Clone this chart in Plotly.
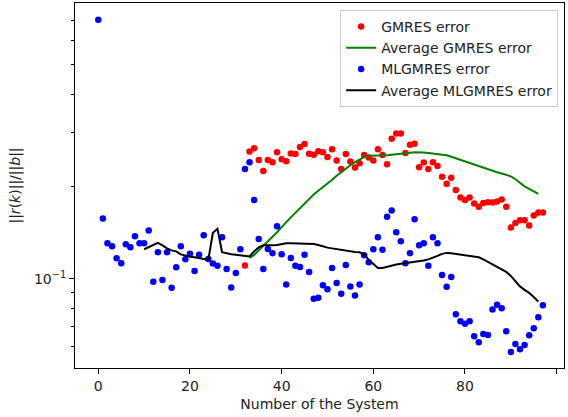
import plotly.graph_objects as go

# System indices
mlgmres_x = list(range(0, 98))
gmres_x = list(range(32, 98))
avg_ml_x = list(range(10, 97))
avg_gm_x = list(range(33, 97))

# Relative residual ||r(k)||/||b|| per system, MLGMRES
mlgmres_err = [
    0.702, 0.1574, 0.1308, 0.1279, 0.1169, 0.1125, 0.1298, 0.1269, 0.1379, 0.1308,
    0.1308, 0.1438, 0.0978, 0.1222, 0.0992, 0.1222, 0.0935, 0.1092, 0.1279, 0.1160,
    0.1207, 0.1062, 0.1198, 0.1389, 0.1162, 0.1122, 0.1103, 0.1369, 0.1078, 0.0937,
    0.1046, 0.1250, 0.2284, 0.2406, 0.1811, 0.1351, 0.1078, 0.1253, 0.1213, 0.1487,
    0.1204, 0.0958, 0.1171, 0.1103, 0.1094, 0.1198, 0.1054, 0.0862, 0.0868, 0.0954,
    0.0925, 0.1086, 0.0970, 0.0895, 0.1111, 0.0944, 0.0882, 0.0958, 0.1195, 0.1134,
    0.1250, 0.1369, 0.1244, 0.1597, 0.1671, 0.1421, 0.1328, 0.1125, 0.1213, 0.1567,
    0.1288, 0.1308, 0.1103, 0.1369, 0.1308, 0.1030, 0.0942, 0.1015, 0.0767, 0.0727,
    0.0714, 0.0727, 0.0650, 0.0621, 0.0661, 0.0656, 0.0794, 0.0824, 0.0802, 0.0675,
    0.0577, 0.0613, 0.0589, 0.0608, 0.0655, 0.0690, 0.0750, 0.0820,
]

# Relative residual per system, GMRES (systems 32..97)
gmres_err = [
    0.1105, 0.2606, 0.2673, 0.2443, 0.2249, 0.2443, 0.2406, 0.2594, 0.2460, 0.2424,
    0.2568, 0.2557, 0.2694, 0.2756, 0.2563, 0.2543, 0.2612, 0.2594, 0.2499, 0.2653,
    0.2436, 0.2284, 0.2556, 0.2417, 0.2311, 0.2388, 0.2537, 0.2492, 0.2436, 0.2653,
    0.2537, 0.2370, 0.2868, 0.2985, 0.2985, 0.2575, 0.2741, 0.2762, 0.2317, 0.2399,
    0.2284, 0.2406, 0.2335, 0.2154, 0.2044, 0.2138, 0.1953, 0.1844, 0.1811, 0.1844,
    0.1762, 0.1719, 0.1771, 0.1780, 0.1775, 0.1789, 0.1816, 0.1719, 0.1471, 0.1521,
    0.1555, 0.1555, 0.1494, 0.1610, 0.1646, 0.1646,
]

# Running averages
avg_mlgmres = [
    0.1250, 0.1269, 0.1291, 0.1311, 0.1287, 0.1258, 0.1239, 0.1230, 0.1202, 0.1189,
    0.1182, 0.1176, 0.1169, 0.1163, 0.1154, 0.1414, 0.1457, 0.1223, 0.1212, 0.1204,
    0.1200, 0.1195, 0.1189, 0.1184, 0.1230, 0.1267, 0.1287, 0.1285, 0.1289, 0.1291,
    0.1301, 0.1308, 0.1308, 0.1306, 0.1305, 0.1304, 0.1303, 0.1301, 0.1291, 0.1277,
    0.1265, 0.1258, 0.1250, 0.1244, 0.1239, 0.1230, 0.1225, 0.1221, 0.1202, 0.1154,
    0.1120, 0.1086, 0.1086, 0.1097, 0.1107, 0.1115, 0.1120, 0.1125, 0.1132, 0.1136,
    0.1141, 0.1149, 0.1158, 0.1171, 0.1189, 0.1207, 0.1216, 0.1213, 0.1207, 0.1200,
    0.1194, 0.1187, 0.1182, 0.1176, 0.1158, 0.1136, 0.1115, 0.1095, 0.1074, 0.1054,
    0.1023, 0.0981, 0.0945, 0.0921, 0.0900, 0.0873, 0.0843,
]

avg_gmres = [
    0.1171, 0.1198, 0.1239, 0.1282, 0.1326, 0.1367, 0.1420, 0.1476, 0.1536, 0.1588,
    0.1643, 0.1702, 0.1757, 0.1826, 0.1886, 0.1940, 0.1992, 0.2044, 0.2107, 0.2172,
    0.2234, 0.2294, 0.2350, 0.2406, 0.2452, 0.2499, 0.2523, 0.2523, 0.2523, 0.2523,
    0.2533, 0.2543, 0.2556, 0.2572, 0.2578, 0.2584, 0.2590, 0.2596, 0.2588, 0.2576,
    0.2567, 0.2558, 0.2549, 0.2532, 0.2505, 0.2475, 0.2447, 0.2420, 0.2391, 0.2364,
    0.2337, 0.2309, 0.2284, 0.2258, 0.2229, 0.2208, 0.2186, 0.2163, 0.2115, 0.2059,
    0.2006, 0.1969, 0.1932, 0.1896,
]

x_ticks = [0, 20, 40, 60, 80, 100]
y_major = [0.1]
y_major_text = ["10<sup>\u22121</sup>"]
y_minor = [0.06, 0.07, 0.08, 0.09, 0.2, 0.3, 0.4, 0.5, 0.6, 0.7]

FONT = "DejaVu Sans"

fig = go.Figure()
fig.add_trace(go.Scatter(
    x=gmres_x, y=gmres_err, mode="markers", name="GMRES error",
    marker=dict(color="#ff0000", size=6.5, line=dict(width=0)),
))
fig.add_trace(go.Scatter(
    x=avg_gm_x, y=avg_gmres, mode="lines", name="Average GMRES error",
    line=dict(color="#008000", width=2),
))
fig.add_trace(go.Scatter(
    x=mlgmres_x, y=mlgmres_err, mode="markers", name="MLGMRES error",
    marker=dict(color="#0000ff", size=6.5, line=dict(width=0)),
))
fig.add_trace(go.Scatter(
    x=avg_ml_x, y=avg_mlgmres, mode="lines", name="Average MLGMRES error",
    line=dict(color="#000000", width=2),
))

axis_common = dict(
    showline=True, mirror=True, linecolor="black", linewidth=1,
    ticks="outside", ticklen=5, tickwidth=1, tickcolor="black",
    showgrid=False, zeroline=False,
    tickfont=dict(family=FONT, size=14, color="#222222"),
)

fig.update_layout(
    width=568, height=417,
    margin=dict(l=75, r=4, t=3, b=49),
    paper_bgcolor="white", plot_bgcolor="white",
    font=dict(family=FONT, size=14, color="#222222"),
    xaxis=dict(
        **axis_common,
        range=[-5.08, 101.6],
        tickmode="array", tickvals=x_ticks,
        title=dict(text="Number of the System", standoff=6,
                   font=dict(family=FONT, size=14, color="#222222")),
    ),
    yaxis=dict(
        **axis_common,
        type="log",
        range=[-1.291, -0.099],
        tickmode="array", tickvals=y_major, ticktext=y_major_text,
        minor=dict(tickmode="array", tickvals=y_minor, ticks="outside",
                   ticklen=3, tickwidth=1, tickcolor="black", showgrid=False),
        title=dict(text="||<i>r</i>(<i>k</i>)||/||<i>b</i>||", standoff=10,
                   font=dict(family=FONT, size=14, color="#222222")),
    ),
    legend=dict(
        x=0.988, y=0.981, xanchor="right", yanchor="top",
        bgcolor="rgba(255,255,255,0.8)", bordercolor="#cccccc", borderwidth=1,
        font=dict(family=FONT, size=14, color="#222222"),
        tracegroupgap=0,
    ),
    showlegend=True,
)

fig.write_html("out.html")
